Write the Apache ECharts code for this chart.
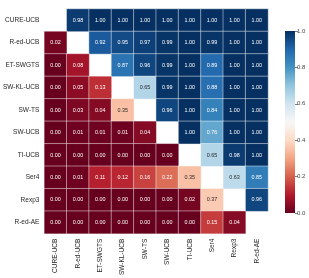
<!DOCTYPE html>
<html><head><meta charset="utf-8">
<script src="https://cdn.jsdelivr.net/npm/echarts@6/dist/echarts.min.js"></script>
<style>html,body{margin:0;padding:0;background:#fff}#c{width:309px;height:278px}</style>
</head><body><div id="c"></div>
<script>
const categories = ['CURE-UCB','R-ed-UCB','ET-SWGTS','SW-KL-UCB','SW-TS','SW-UCB','TI-UCB','Ser4','Rexp3','R-ed-AE'];
// rows top to bottom; null = masked diagonal
const row0 = [null,0.98,1.00,1.00,1.00,1.00,1.00,1.00,1.00,1.00];
const row1 = [0.02,null,0.92,0.95,0.97,0.99,1.00,0.99,1.00,1.00];
const row2 = [0.00,0.08,null,0.87,0.96,0.99,1.00,0.89,1.00,1.00];
const row3 = [0.00,0.05,0.13,null,0.65,0.99,1.00,0.88,1.00,1.00];
const row4 = [0.00,0.03,0.04,0.35,null,0.96,1.00,0.84,1.00,1.00];
const row5 = [0.00,0.01,0.01,0.01,0.04,null,1.00,0.76,1.00,1.00];
const row6 = [0.00,0.00,0.00,0.00,0.00,0.00,null,0.65,0.98,1.00];
const row7 = [0.00,0.01,0.11,0.12,0.16,0.22,0.35,null,0.63,0.85];
const row8 = [0.00,0.00,0.00,0.00,0.00,0.00,0.02,0.37,null,0.96];
const row9 = [0.00,0.00,0.00,0.00,0.00,0.00,0.00,0.15,0.04,null];
const rows = [row0,row1,row2,row3,row4,row5,row6,row7,row8,row9];
const colorbarTicks = [0,0.2,0.4,0.6,0.8,1.0];

const RdBu = ['#67001f','#b2182b','#d6604d','#f4a582','#fddbc7','#f7f7f7','#d1e5f0','#92c5de','#4393c3','#2166ac','#053061'];

const data = [];
rows.forEach((r, i) => r.forEach((v, j) => {
  if (v !== null) data.push({
    value: [j, i, v],
    label: { color: (v >= 0.3 && v <= 0.7) ? '#262626' : '#ffffff' }
  });
}));

const chart = echarts.init(document.getElementById('c'), null, {renderer:'canvas'});
const font = '"Liberation Sans", Arial, sans-serif';
chart.setOption({
  animation: false,
  backgroundColor: '#fff',
  grid: [
    {left: 43, top: 9, width: 225, height: 226},
    {left: 285, top: 31, width: 10, height: 182}
  ],
  xAxis: [
    {type:'category', data: categories, gridIndex:0, position:'bottom',
     axisLine:{show:false}, axisTick:{show:false}, splitLine:{show:false},
     axisLabel:{rotate:90, fontSize:6.5, color:'#262626', fontFamily:font, margin:5, interval:0}},
    {type:'category', data:['cb'], gridIndex:1, show:false}
  ],
  yAxis: [
    {type:'category', data: categories, gridIndex:0, inverse:true,
     axisLine:{show:false}, axisTick:{show:false}, splitLine:{show:false},
     axisLabel:{fontSize:6.5, color:'#262626', fontFamily:font, margin:5, interval:0}},
    {type:'value', gridIndex:1, min:0, max:1, interval:0.2, position:'right',
     axisLine:{show:false}, splitLine:{show:false},
     axisTick:{show:true, length:3, lineStyle:{color:'#262626', width:0.6}},
     axisLabel:{fontSize:6, color:'#444', fontFamily:font, margin:2,
       formatter: v => (colorbarTicks.some(t => Math.abs(t - v) < 1e-9) ? v.toFixed(1) : '')}}
  ],
  visualMap: {show:false, min:0, max:1, seriesIndex:0, dimension:2, inRange:{color: RdBu}},
  series: [
    {type:'heatmap', xAxisIndex:0, yAxisIndex:0, data: data,
     itemStyle:{borderColor:'rgba(255,255,255,0.75)', borderWidth:0.6},
     label:{show:true, fontSize:5.4, fontFamily:font, formatter: p => p.value[2].toFixed(2)}},
    {type:'bar', xAxisIndex:1, yAxisIndex:1, data:[1], barWidth:'100%', silent:true,
     itemStyle:{color: new echarts.graphic.LinearGradient(0,1,0,0,
       RdBu.map((c,k) => ({offset: k/(RdBu.length-1), color: c})))}}
  ]
});
</script></body></html>
